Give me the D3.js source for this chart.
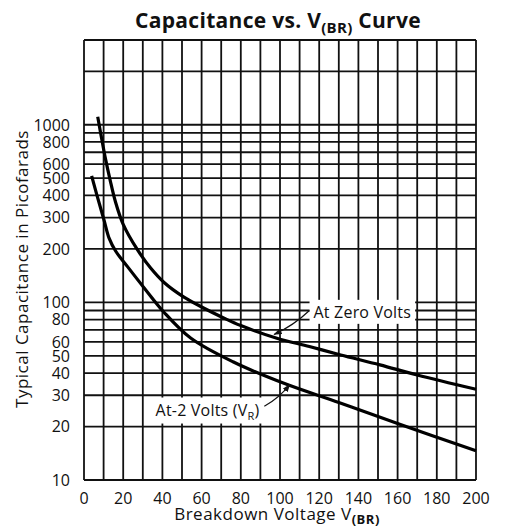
<!DOCTYPE html>
<html>
<head>
<meta charset="utf-8">
<script src="https://cdn.jsdelivr.net/npm/d3@7"></script>
<style>
  body { margin: 0; background: #fff; }
  text { font-family: "Open Sans", "Noto Sans", sans-serif; fill: #111; }
</style>
</head>
<body>
<div id="chart"></div>
<script>
// breakdown voltage (V) vs typical capacitance (pF)
var zeroVolts = [
  {v: 7, c: 1110}, {v: 11, c: 640}, {v: 13.3, c: 490}, {v: 16, c: 370},
  {v: 20, c: 275}, {v: 27, c: 200}, {v: 34, c: 156}, {v: 41, c: 129},
  {v: 51, c: 107}, {v: 61, c: 93}, {v: 71, c: 82}, {v: 80, c: 74},
  {v: 98, c: 63}, {v: 115, c: 56.4}, {v: 131, c: 50.6}, {v: 151, c: 44.5},
  {v: 170, c: 39}, {v: 200, c: 32.4}
];
var minus2Volts = [
  {v: 3.9, c: 515}, {v: 6.8, c: 394}, {v: 10.2, c: 291}, {v: 12.8, c: 230},
  {v: 16.2, c: 194}, {v: 22, c: 160}, {v: 30.6, c: 121}, {v: 40.8, c: 88},
  {v: 54.4, c: 63}, {v: 76, c: 46.3}, {v: 102, c: 35}, {v: 130, c: 27.3},
  {v: 160, c: 20.8}, {v: 200, c: 14.6}
];

var xGrid = d3.range(0, 201, 10);
var xLabels = [0, 20, 40, 60, 80, 100, 120, 140, 160, 180, 200];
var yGrid = [10, 20, 30, 40, 50, 60, 70, 80, 90, 100, 200, 300, 400, 500, 600, 700, 800, 900, 1000, 2000, 3000];
var yLabels = [10, 20, 30, 40, 50, 60, 80, 100, 200, 300, 400, 500, 600, 800, 1000];

// callouts: label anchor and arrow tip in data units
var callouts = [
  {text: "At Zero Volts", sub: "", lv: 142, lc: 88, fromV: 115, fromC: 90, toV: 97, toC: 66},
  {text: "At-2 Volts (V", sub: "R", after: ")", lv: 63, lc: 24.8, fromV: 92, fromC: 26, toV: 105, toC: 34.5}
];

var W = 507, H = 532;
var padL = 84, padR = 476, padT = 40, padB = 480;

var svg = d3.select("#chart").append("svg")
  .attr("width", W)
  .attr("height", H);

var x = d3.scaleLinear().domain([0, 200]).range([padL, padR]);
var y = d3.scaleLog().domain([10, 3000]).range([padB, padT]);

svg.append("defs").append("marker")
  .attr("id", "arr")
  .attr("viewBox", "0 0 10 10")
  .attr("refX", 9).attr("refY", 5)
  .attr("markerWidth", 7).attr("markerHeight", 7)
  .attr("orient", "auto")
  .append("path")
  .attr("d", "M0,1.5L10,5L0,8.5Z")
  .attr("fill", "#111");

// title
var title = svg.append("text")
  .attr("x", 278)
  .attr("y", 28)
  .attr("text-anchor", "middle")
  .attr("font-size", 21)
  .attr("letter-spacing", 0.3)
  .attr("font-weight", "bold");
title.append("tspan").text("Capacitance vs. V");
title.append("tspan").attr("font-size", 15).attr("dy", 5).text("(BR)");
title.append("tspan").attr("dy", -5).text(" Curve");

// grid
var grid = svg.append("g").attr("stroke", "#111").attr("stroke-width", 1.8);
grid.selectAll(".vg")
  .data(xGrid)
  .enter().append("line")
  .attr("class", "vg")
  .attr("x1", function(d){ return x(d); })
  .attr("x2", function(d){ return x(d); })
  .attr("y1", y(3000))
  .attr("y2", y(10));
grid.selectAll(".hg")
  .data(yGrid)
  .enter().append("line")
  .attr("class", "hg")
  .attr("x1", x(0))
  .attr("x2", x(200))
  .attr("y1", function(d){ return y(d); })
  .attr("y2", function(d){ return y(d); });

// tick labels
svg.selectAll(".yl")
  .data(yLabels)
  .enter().append("text")
  .attr("class", "yl")
  .attr("x", x(0) - 14)
  .attr("y", function(d){ return y(d); })
  .attr("dy", "0.36em")
  .attr("text-anchor", "end")
  .attr("font-size", 16)
  .text(function(d){ return d; });

svg.selectAll(".xl")
  .data(xLabels)
  .enter().append("text")
  .attr("class", "xl")
  .attr("x", function(d){ return x(d); })
  .attr("y", y(10) + 24)
  .attr("text-anchor", "middle")
  .attr("font-size", 16)
  .text(function(d){ return d; });

// axis titles
var xt = svg.append("text")
  .attr("x", 277)
  .attr("y", 520)
  .attr("text-anchor", "middle")
  .attr("font-size", 17)
  .attr("letter-spacing", 0.5);
xt.append("tspan").text("Breakdown Voltage V");
xt.append("tspan").attr("font-size", 13).attr("font-weight", "bold").attr("dy", 4).text("(BR)");

svg.append("text")
  .attr("transform", "translate(28," + 269 + ") rotate(-90)")
  .attr("text-anchor", "middle")
  .attr("font-size", 17)
  .attr("letter-spacing", 0.5)
  .text("Typical Capacitance in Picofarads");

// curves
var line = d3.line()
  .x(function(d){ return x(d.v); })
  .y(function(d){ return y(d.c); })
  .curve(d3.curveCatmullRom.alpha(0.5));

svg.selectAll(".curve")
  .data([zeroVolts, minus2Volts])
  .enter().append("path")
  .attr("class", "curve")
  .attr("d", line)
  .attr("fill", "none")
  .attr("stroke", "#000")
  .attr("stroke-width", 3.2);

// callouts
callouts.forEach(function(c){
  var g = svg.append("g");
  var t = g.append("text")
    .attr("x", x(c.lv))
    .attr("y", y(c.lc))
    .attr("dy", "0.35em")
    .attr("text-anchor", "middle")
    .attr("font-size", 16)
    .attr("letter-spacing", 0.2);
  t.append("tspan").text(c.text);
  if (c.sub) {
    t.append("tspan").attr("font-size", 11).attr("dy", 4).text(c.sub);
    t.append("tspan").attr("dy", -4).text(c.after);
  }
  var bb = t.node().getBBox();
  g.insert("rect", "text")
    .attr("x", bb.x - 4)
    .attr("y", bb.y - 1)
    .attr("width", bb.width + 8)
    .attr("height", bb.height + 2)
    .attr("fill", "#fff");
  var x0 = x(c.fromV), y0 = y(c.fromC), x1 = x(c.toV), y1 = y(c.toC);
  g.append("path")
    .attr("d", "M" + x0 + "," + y0 + "Q" + ((x0 + x1) / 2 + 2) + "," + ((y0 + y1) / 2 + 3) + " " + x1 + "," + y1)
    .attr("fill", "none")
    .attr("stroke", "#111")
    .attr("stroke-width", 1.2)
    .attr("marker-end", "url(#arr)");
});
</script>
</body>
</html>
